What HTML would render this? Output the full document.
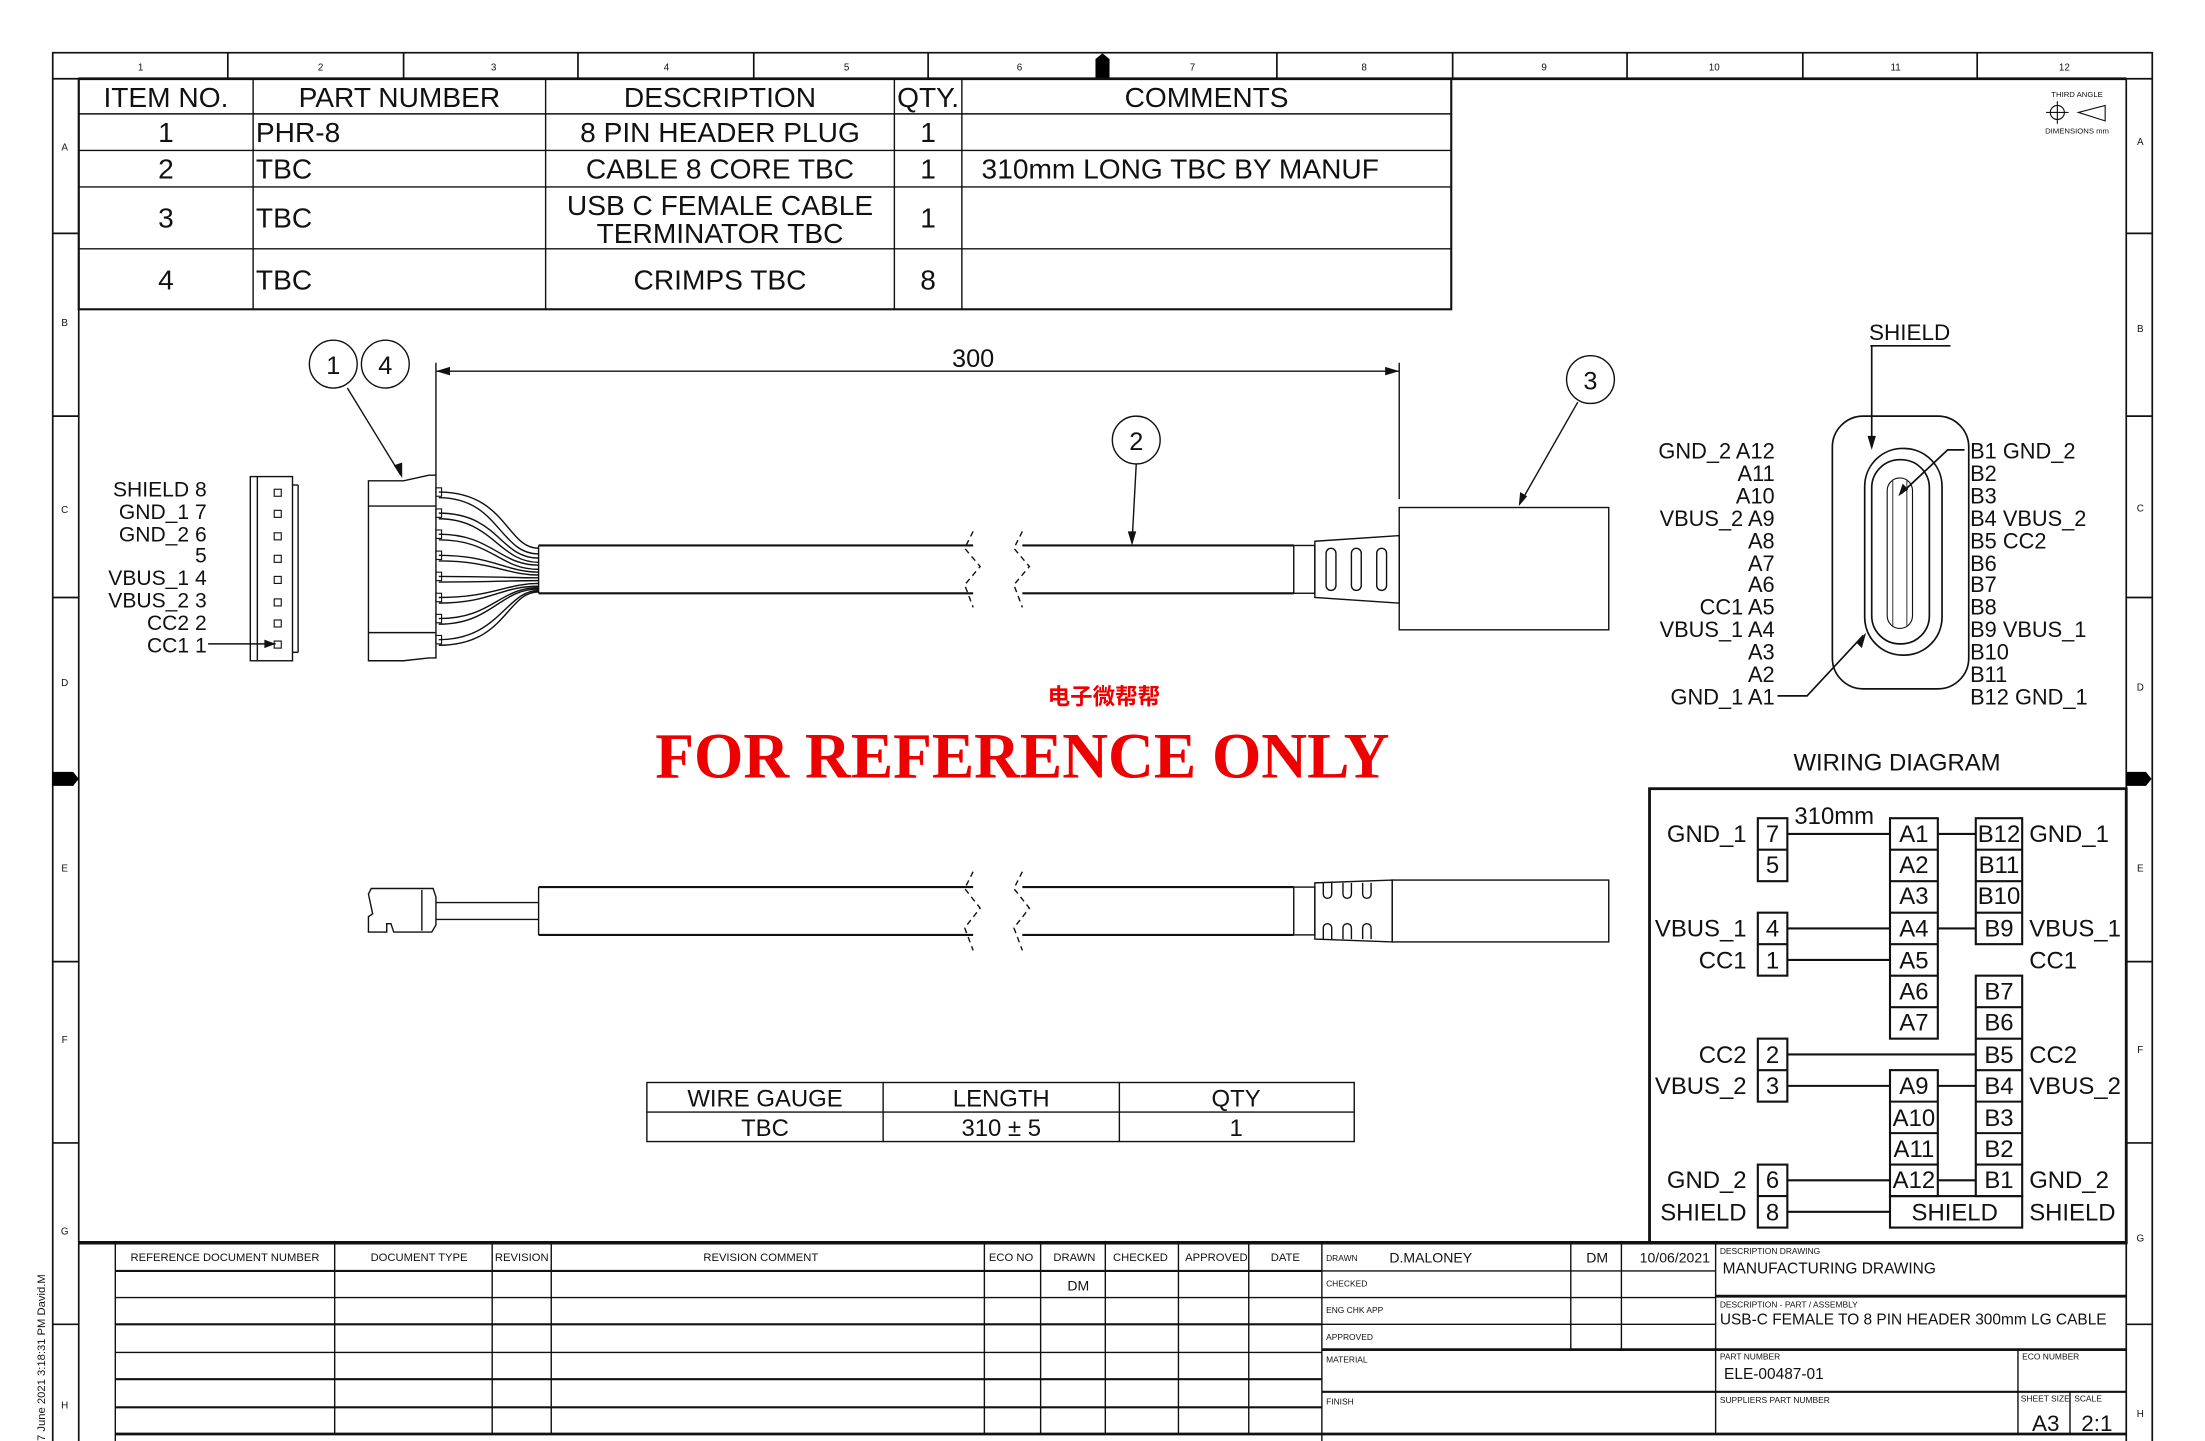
<!DOCTYPE html>
<html><head><meta charset="utf-8"><style>
html,body{margin:0;padding:0;background:#fff}
svg{display:block}
text{font-family:"Liberation Sans","Noto Sans CJK SC",sans-serif;fill:#111}
</style></head><body>
<svg width="2205" height="1441" viewBox="0 0 1568 1025" preserveAspectRatio="none" xmlns="http://www.w3.org/2000/svg">
<rect x="0" y="0" width="1568" height="1025" fill="#fff"/>
<g stroke="#111" fill="none" stroke-width="1.2">
<rect x="37.5" y="37.5" width="1493" height="1000"/>
<line x1="37.5" y1="56" x2="1530" y2="56"/>
<line x1="56" y1="56" x2="56" y2="1030"/>
<line x1="1512" y1="56" x2="1512" y2="1030"/>
<line x1="56" y1="56" x2="1512" y2="56" stroke-width="2"/>
<line x1="162" y1="37" x2="162" y2="56"/><line x1="287" y1="37" x2="287" y2="56"/><line x1="411" y1="37" x2="411" y2="56"/><line x1="536" y1="37" x2="536" y2="56"/><line x1="660" y1="37" x2="660" y2="56"/><line x1="908" y1="37" x2="908" y2="56"/><line x1="1033" y1="37" x2="1033" y2="56"/><line x1="1157" y1="37" x2="1157" y2="56"/><line x1="1282" y1="37" x2="1282" y2="56"/><line x1="1406" y1="37" x2="1406" y2="56"/>
<line x1="37" y1="166" x2="56" y2="166"/><line x1="37" y1="296" x2="56" y2="296"/><line x1="37" y1="425" x2="56" y2="425"/><line x1="37" y1="684" x2="56" y2="684"/><line x1="37" y1="813" x2="56" y2="813"/><line x1="37" y1="942" x2="56" y2="942"/>
<line x1="1512" y1="166" x2="1530" y2="166"/><line x1="1512" y1="296" x2="1530" y2="296"/><line x1="1512" y1="425" x2="1530" y2="425"/><line x1="1512" y1="684" x2="1530" y2="684"/><line x1="1512" y1="813" x2="1530" y2="813"/><line x1="1512" y1="942" x2="1530" y2="942"/>
</g>
<g fill="#000">
<path d="M779,56 L779,42 L784,38 L789,42 L789,56Z"/>
<path d="M37,549 L52,549 L56,554 L52,559 L37,559Z"/>
<path d="M1512,549 L1526,549 L1530,554 L1526,559 L1512,559Z"/>
</g>
<g font-size="7" text-anchor="middle" fill="#223">
<text x="100" y="50">1</text><text x="228" y="50">2</text><text x="351" y="50">3</text><text x="474" y="50">4</text><text x="602" y="50">5</text><text x="725" y="50">6</text><text x="848" y="50">7</text><text x="970" y="50">8</text><text x="1098" y="50">9</text><text x="1219" y="50">10</text><text x="1348" y="50">11</text><text x="1468" y="50">12</text>
<text x="46" y="107">A</text><text x="46" y="232">B</text><text x="46" y="365">C</text><text x="46" y="488">D</text><text x="46" y="620">E</text><text x="46" y="742">F</text><text x="46" y="878">G</text><text x="46" y="1002">H</text>
<text x="1522" y="103">A</text><text x="1522" y="236">B</text><text x="1522" y="364">C</text><text x="1522" y="491">D</text><text x="1522" y="620">E</text><text x="1522" y="749">F</text><text x="1522" y="883">G</text><text x="1522" y="1008">H</text>
</g>
<g font-size="5.5" text-anchor="middle"><text x="1477" y="69">THIRD ANGLE</text><text x="1477" y="95">DIMENSIONS mm</text></g>
<g stroke="#111" fill="none" stroke-width="0.8"><circle cx="1463" cy="80" r="5"/><line x1="1455" y1="80" x2="1471" y2="80"/><line x1="1463" y1="72" x2="1463" y2="88"/><path d="M1478,80 L1497,75 L1497,86Z"/></g>

<g stroke="#111" fill="none" stroke-width="1">
<rect x="56" y="56" width="976" height="164" stroke-width="1.5"/>
<line x1="56" y1="81" x2="1032" y2="81"/><line x1="56" y1="107" x2="1032" y2="107"/><line x1="56" y1="133" x2="1032" y2="133"/><line x1="56" y1="177" x2="1032" y2="177"/>
<line x1="180" y1="56" x2="180" y2="220"/><line x1="388" y1="56" x2="388" y2="220"/><line x1="636" y1="56" x2="636" y2="220"/><line x1="684" y1="56" x2="684" y2="220"/>
</g>
<g font-size="20">
<g text-anchor="middle">
<text x="118" y="76">ITEM NO.</text><text x="284" y="76">PART NUMBER</text><text x="512" y="76">DESCRIPTION</text><text x="660" y="76">QTY.</text><text x="858" y="76">COMMENTS</text>
<text x="118" y="101">1</text><text x="512" y="101">8 PIN HEADER PLUG</text><text x="660" y="101">1</text>
<text x="118" y="127">2</text><text x="512" y="127">CABLE 8 CORE TBC</text><text x="660" y="127">1</text>
<text x="118" y="162">3</text><text x="512" y="153">USB C FEMALE CABLE</text><text x="512" y="173">TERMINATOR TBC</text><text x="660" y="162">1</text>
<text x="118" y="206">4</text><text x="512" y="206">CRIMPS TBC</text><text x="660" y="206">8</text>
</g>
<text x="182" y="101">PHR-8</text><text x="182" y="127">TBC</text><text x="182" y="162">TBC</text><text x="182" y="206">TBC</text>
<text x="698" y="127">310mm LONG TBC BY MANUF</text>
</g>

<g stroke="#111" fill="none" stroke-width="1">
<line x1="310" y1="264" x2="995" y2="264"/>
<line x1="310" y1="258" x2="310" y2="338"/><line x1="995" y1="258" x2="995" y2="355"/>
<circle cx="237" cy="259" r="17"/><circle cx="274" cy="259" r="17"/><circle cx="808" cy="313" r="17"/><circle cx="1131" cy="270" r="17"/>
<line x1="247" y1="276" x2="285" y2="338"/><line x1="808" y1="330" x2="805" y2="386"/><line x1="1122" y1="286" x2="1081" y2="358"/>
<rect x="178" y="339" width="30" height="131"/><line x1="183" y1="339" x2="183" y2="470"/><line x1="208" y1="345" x2="212" y2="345"/><line x1="212" y1="345" x2="212" y2="464"/><line x1="208" y1="464" x2="212" y2="464"/>
<line x1="148" y1="458" x2="196" y2="458"/>
<path d="M262,342 L287,342 L305,338 L310,338 L310,468 L305,468 L287,470 L262,470Z"/>
<line x1="262" y1="360" x2="310" y2="360"/><line x1="262" y1="450" x2="310" y2="450"/>
<path d="M312,350 C360,350 360,390 383,390 M312,354 C355,354 355,394 383,394 M312,365 C355,365 355,397 383,397 M312,369 C350,369 355,400 383,400 M312,380 C350,380 355,402 383,402 M312,384 C350,384 355,405 383,405 M312,395 C350,395 360,407 383,407 M312,399 C350,399 360,409 383,409 M312,410 C350,410 360,411 383,411 M312,414 C350,414 360,413 383,413 M312,425 C350,425 360,415 383,415 M312,429 C350,429 355,417 383,417 M312,440 C350,440 355,418 383,418 M312,444 C350,444 355,419 383,419 M312,455 C355,455 360,420 383,420 M312,459 C360,459 360,421 383,421"/>
<line x1="383" y1="388" x2="692" y2="388" stroke-width="1.5"/><line x1="383" y1="422" x2="692" y2="422" stroke-width="1.5"/><line x1="383" y1="388" x2="383" y2="422"/>
<line x1="727" y1="388" x2="920" y2="388" stroke-width="1.5"/><line x1="727" y1="422" x2="920" y2="422" stroke-width="1.5"/>
<path d="M692,378 L686,390 L697,403 L686,416 L692,432" stroke-dasharray="4,3"/>
<path d="M727,378 L721,390 L732,403 L721,416 L727,432" stroke-dasharray="4,3"/>
<rect x="920" y="388" width="15" height="34"/>
<path d="M935,385 L995,381 L995,429 L935,425Z"/>
<rect x="943" y="390" width="7" height="30" rx="3.5"/><rect x="961" y="390" width="7" height="30" rx="3.5"/><rect x="979" y="390" width="7" height="30" rx="3.5"/>
<rect x="995" y="361" width="149" height="87"/>
<path d="M262,636 L264,632 L308,632 L310,638 L310,658 L307,663 L280,663 L278,657 L275,657 L275,663 L262,663 L262,652 L265,650Z"/>
<line x1="300" y1="633" x2="300" y2="662"/>
<line x1="310" y1="642" x2="383" y2="642"/><line x1="310" y1="654" x2="383" y2="654"/>
<line x1="383" y1="631" x2="692" y2="631" stroke-width="1.5"/><line x1="383" y1="665" x2="692" y2="665" stroke-width="1.5"/><line x1="383" y1="631" x2="383" y2="665"/>
<line x1="727" y1="631" x2="920" y2="631" stroke-width="1.5"/><line x1="727" y1="665" x2="920" y2="665" stroke-width="1.5"/>
<path d="M692,620 L686,632 L697,646 L686,660 L692,676" stroke-dasharray="4,3"/>
<path d="M727,620 L721,632 L732,646 L721,660 L727,676" stroke-dasharray="4,3"/>
<rect x="920" y="631" width="15" height="34"/>
<path d="M935,628 L990,626 L990,670 L935,668Z"/>
<path d="M941,628 v8 a3,3 0 0 0 6,0 v-8 M955,628 v8 a3,3 0 0 0 6,0 v-8 M969,628 v8 a3,3 0 0 0 6,0 v-8"/>
<path d="M941,668 v-8 a3,3 0 0 1 6,0 v8 M955,668 v-8 a3,3 0 0 1 6,0 v8 M969,668 v-8 a3,3 0 0 1 6,0 v8"/>
<rect x="990" y="626" width="154" height="44"/>
</g>
<g fill="#111">
<path d="M310,264 l10,-3 v6Z"/><path d="M995,264 l-10,-3 v6Z"/>
<path d="M286,340 l-6,-9 l6,-2Z"/><path d="M805,388 l-3,-10 l6,0Z"/><path d="M1080,360 l1,-10 l5,3Z"/>
<path d="M196,458 l-8,-3 v6Z"/>
</g>
<g fill="none" stroke="#111" stroke-width="0.8">
<rect x="195" y="348" width="5" height="5"/><rect x="195" y="363" width="5" height="5"/><rect x="195" y="379" width="5" height="5"/><rect x="195" y="395" width="5" height="5"/><rect x="195" y="410" width="5" height="5"/><rect x="195" y="426" width="5" height="5"/><rect x="195" y="441" width="5" height="5"/><rect x="195" y="456" width="5" height="5"/>
<rect x="310" y="347" width="4" height="6"/><rect x="310" y="362" width="4" height="6"/><rect x="310" y="377" width="4" height="6"/><rect x="310" y="392" width="4" height="6"/><rect x="310" y="407" width="4" height="6"/><rect x="310" y="422" width="4" height="6"/><rect x="310" y="437" width="4" height="6"/><rect x="310" y="452" width="4" height="6"/>
</g>
<g font-size="18" text-anchor="middle"><text x="237" y="266">1</text><text x="274" y="266">4</text><text x="808" y="320">2</text><text x="1131" y="277">3</text><text x="692" y="261">300</text></g>
<g font-size="15" text-anchor="end">
<text x="147" y="353">SHIELD 8</text><text x="147" y="369">GND_1 7</text><text x="147" y="385">GND_2 6</text><text x="147" y="400">5</text><text x="147" y="416">VBUS_1 4</text><text x="147" y="432">VBUS_2 3</text><text x="147" y="448">CC2 2</text><text x="147" y="464">CC1 1</text>
</g>
<text x="785" y="501" font-size="16" font-weight="bold" text-anchor="middle" style="fill:#e00">电子微帮帮</text>
<text x="727" y="553" font-size="46" font-weight="bold" text-anchor="middle" textLength="522" lengthAdjust="spacingAndGlyphs" style="font-family:'Liberation Serif',serif;fill:#e00">FOR REFERENCE ONLY</text>

<g stroke="#111" fill="none" stroke-width="1"><rect x="460" y="770" width="503" height="42"/><line x1="460" y1="791" x2="963" y2="791"/><line x1="628" y1="770" x2="628" y2="812"/><line x1="796" y1="770" x2="796" y2="812"/></g>
<g font-size="17" text-anchor="middle"><text x="544" y="787">WIRE GAUGE</text><text x="712" y="787">LENGTH</text><text x="879" y="787">QTY</text><text x="544" y="808">TBC</text><text x="712" y="808">310 ± 5</text><text x="879" y="808">1</text></g>

<g stroke="#111" fill="none" stroke-width="1.2">
<rect x="1303" y="296" width="97" height="194" rx="22"/>
<rect x="1326" y="319" width="55" height="147" rx="27"/>
<rect x="1331" y="327" width="41" height="131" rx="20"/>
<rect x="1342" y="340" width="18" height="107" rx="9" stroke-width="0.8"/>
<line x1="1346" y1="342" x2="1346" y2="445" stroke-width="0.6"/><line x1="1356" y1="342" x2="1356" y2="445" stroke-width="0.6"/>
<line x1="1330" y1="246" x2="1387" y2="246"/><line x1="1331" y1="246" x2="1331" y2="318"/>
<path d="M1397,320 L1385,320 L1352,351"/>
<path d="M1264,495 L1285,495 L1325,452"/>
</g>
<g fill="#111"><path d="M1331,320 l-3,-10 h6Z"/><path d="M1350,353 l3,-9 l4,4Z"/><path d="M1327,450 l-7,7 l4,4Z"/></g>
<text x="1358" y="242" font-size="16" text-anchor="middle">SHIELD</text>
<g font-size="15.5" text-anchor="end">
<text x="1262" y="326">GND_2 A12</text><text x="1262" y="342">A11</text><text x="1262" y="358">A10</text><text x="1262" y="374">VBUS_2 A9</text><text x="1262" y="390">A8</text><text x="1262" y="406">A7</text><text x="1262" y="421">A6</text><text x="1262" y="437">CC1 A5</text><text x="1262" y="453">VBUS_1 A4</text><text x="1262" y="469">A3</text><text x="1262" y="485">A2</text><text x="1262" y="501">GND_1 A1</text>
</g>
<g font-size="15.5">
<text x="1401" y="326">B1 GND_2</text><text x="1401" y="342">B2</text><text x="1401" y="358">B3</text><text x="1401" y="374">B4 VBUS_2</text><text x="1401" y="390">B5 CC2</text><text x="1401" y="406">B6</text><text x="1401" y="421">B7</text><text x="1401" y="437">B8</text><text x="1401" y="453">B9 VBUS_1</text><text x="1401" y="469">B10</text><text x="1401" y="485">B11</text><text x="1401" y="501">B12 GND_1</text>
</g>
<text x="1349" y="548" font-size="17" text-anchor="middle">WIRING DIAGRAM</text>

<g stroke="#111" fill="none" stroke-width="1.5">
<rect x="1173" y="561" width="339" height="323" stroke-width="2"/>
<rect x="1250" y="582" width="21" height="44.8"/><line x1="1250" y1="604.4" x2="1271" y2="604.4"/>
<rect x="1250" y="649.2" width="21" height="44.8"/><line x1="1250" y1="671.6" x2="1271" y2="671.6"/>
<rect x="1250" y="738.8" width="21" height="44.8"/><line x1="1250" y1="761.2" x2="1271" y2="761.2"/>
<rect x="1250" y="828.4" width="21" height="44.8"/><line x1="1250" y1="850.8" x2="1271" y2="850.8"/>
<rect x="1344" y="582" width="34" height="156.8"/>
<line x1="1344" y1="604.4" x2="1378" y2="604.4"/><line x1="1344" y1="626.8" x2="1378" y2="626.8"/><line x1="1344" y1="649.2" x2="1378" y2="649.2"/><line x1="1344" y1="671.6" x2="1378" y2="671.6"/><line x1="1344" y1="694" x2="1378" y2="694"/><line x1="1344" y1="716.4" x2="1378" y2="716.4"/>
<rect x="1344" y="761.2" width="34" height="89.6"/>
<line x1="1344" y1="783.6" x2="1378" y2="783.6"/><line x1="1344" y1="806" x2="1378" y2="806"/><line x1="1344" y1="828.4" x2="1378" y2="828.4"/>
<rect x="1405" y="582" width="33" height="89.6"/>
<line x1="1405" y1="604.4" x2="1438" y2="604.4"/><line x1="1405" y1="626.8" x2="1438" y2="626.8"/><line x1="1405" y1="649.2" x2="1438" y2="649.2"/>
<rect x="1405" y="694" width="33" height="156.8"/>
<line x1="1405" y1="716.4" x2="1438" y2="716.4"/><line x1="1405" y1="738.8" x2="1438" y2="738.8"/><line x1="1405" y1="761.2" x2="1438" y2="761.2"/><line x1="1405" y1="783.6" x2="1438" y2="783.6"/><line x1="1405" y1="806" x2="1438" y2="806"/><line x1="1405" y1="828.4" x2="1438" y2="828.4"/>
<rect x="1344" y="850.8" width="94" height="22.4"/>
<line x1="1271" y1="593.2" x2="1344" y2="593.2"/><line x1="1378" y1="593.2" x2="1405" y2="593.2"/>
<line x1="1271" y1="660.4" x2="1344" y2="660.4"/><line x1="1378" y1="660.4" x2="1405" y2="660.4"/>
<line x1="1271" y1="682.8" x2="1344" y2="682.8"/>
<line x1="1271" y1="750" x2="1405" y2="750"/>
<line x1="1271" y1="772.4" x2="1344" y2="772.4"/><line x1="1378" y1="772.4" x2="1405" y2="772.4"/>
<line x1="1271" y1="839.6" x2="1344" y2="839.6"/><line x1="1378" y1="839.6" x2="1405" y2="839.6"/>
<line x1="1271" y1="862" x2="1344" y2="862"/>
</g>
<g font-size="17" text-anchor="middle">
<text x="1260.5" y="599">7</text><text x="1260.5" y="621">5</text><text x="1260.5" y="666">4</text><text x="1260.5" y="689">1</text><text x="1260.5" y="756">2</text><text x="1260.5" y="778">3</text><text x="1260.5" y="845">6</text><text x="1260.5" y="868">8</text>
<text x="1361" y="599">A1</text><text x="1361" y="621">A2</text><text x="1361" y="643">A3</text><text x="1361" y="666">A4</text><text x="1361" y="689">A5</text><text x="1361" y="711">A6</text><text x="1361" y="733">A7</text>
<text x="1361" y="778">A9</text><text x="1361" y="801">A10</text><text x="1361" y="823">A11</text><text x="1361" y="845">A12</text>
<text x="1421.5" y="599">B12</text><text x="1421.5" y="621">B11</text><text x="1421.5" y="643">B10</text><text x="1421.5" y="666">B9</text>
<text x="1421.5" y="711">B7</text><text x="1421.5" y="733">B6</text><text x="1421.5" y="756">B5</text><text x="1421.5" y="778">B4</text><text x="1421.5" y="801">B3</text><text x="1421.5" y="823">B2</text><text x="1421.5" y="845">B1</text>
<text x="1390" y="868">SHIELD</text>
</g>
<text x="1276" y="586" font-size="17">310mm</text>
<g font-size="17" text-anchor="end">
<text x="1242" y="599">GND_1</text><text x="1242" y="666">VBUS_1</text><text x="1242" y="689">CC1</text><text x="1242" y="756">CC2</text><text x="1242" y="778">VBUS_2</text><text x="1242" y="845">GND_2</text><text x="1242" y="868">SHIELD</text>
</g>
<g font-size="17">
<text x="1443" y="599">GND_1</text><text x="1443" y="666">VBUS_1</text><text x="1443" y="689">CC1</text><text x="1443" y="756">CC2</text><text x="1443" y="778">VBUS_2</text><text x="1443" y="845">GND_2</text><text x="1443" y="868">SHIELD</text>
</g>

<g stroke="#111" fill="none" stroke-width="1">
<line x1="56" y1="884" x2="1512" y2="884" stroke-width="2.5"/>
<line x1="82" y1="884" x2="82" y2="1025"/>
<line x1="82" y1="904" x2="940" y2="904" stroke-width="1.5"/><line x1="82" y1="923" x2="940" y2="923"/><line x1="82" y1="942" x2="940" y2="942" stroke-width="1.5"/><line x1="82" y1="962" x2="940" y2="962"/><line x1="82" y1="981" x2="940" y2="981" stroke-width="1.5"/><line x1="82" y1="1001" x2="940" y2="1001" stroke-width="1.5"/><line x1="82" y1="1020" x2="1512" y2="1020" stroke-width="2"/>
<line x1="238" y1="884" x2="238" y2="1020"/><line x1="350" y1="884" x2="350" y2="1020"/><line x1="392" y1="884" x2="392" y2="1020"/><line x1="700" y1="884" x2="700" y2="1020"/><line x1="740" y1="884" x2="740" y2="1020"/><line x1="786" y1="884" x2="786" y2="1020"/><line x1="838" y1="884" x2="838" y2="1020"/><line x1="888" y1="884" x2="888" y2="1020"/><line x1="940" y1="884" x2="940" y2="1025"/>
<line x1="940" y1="904" x2="1220" y2="904"/><line x1="940" y1="923" x2="1220" y2="923"/><line x1="940" y1="942" x2="1220" y2="942"/><line x1="940" y1="960" x2="1512" y2="960" stroke-width="2"/><line x1="940" y1="990" x2="1512" y2="990" stroke-width="1.5"/>
<line x1="1117" y1="884" x2="1117" y2="960"/><line x1="1153" y1="884" x2="1153" y2="960"/><line x1="1220" y1="884" x2="1220" y2="1020"/>
<line x1="1220" y1="922" x2="1512" y2="922" stroke-width="2"/>
<line x1="1435" y1="960" x2="1435" y2="1020"/><line x1="1472" y1="990" x2="1472" y2="1020"/>
</g>
<g font-size="8" text-anchor="middle" fill="#112">
<text x="160" y="897">REFERENCE DOCUMENT NUMBER</text><text x="298" y="897">DOCUMENT TYPE</text><text x="371" y="897">REVISION</text><text x="541" y="897">REVISION COMMENT</text><text x="719" y="897">ECO NO</text><text x="764" y="897">DRAWN</text><text x="811" y="897">CHECKED</text><text x="865" y="897">APPROVED</text><text x="914" y="897">DATE</text>
</g>
<g font-size="6" fill="#112">
<text x="943" y="897">DRAWN</text><text x="943" y="915">CHECKED</text><text x="943" y="934">ENG CHK APP</text><text x="943" y="953">APPROVED</text><text x="943" y="969">MATERIAL</text><text x="943" y="999">FINISH</text>
<text x="1223" y="892">DESCRIPTION DRAWING</text><text x="1223" y="930">DESCRIPTION - PART / ASSEMBLY</text><text x="1223" y="967">PART NUMBER</text><text x="1438" y="967">ECO NUMBER</text><text x="1223" y="998">SUPPLIERS PART NUMBER</text><text x="1437" y="997">SHEET SIZE</text><text x="1475" y="997">SCALE</text>
</g>
<g font-size="10">
<text x="988" y="898">D.MALONEY</text><text x="1128" y="898">DM</text><text x="1166" y="898">10/06/2021</text><text x="759" y="918">DM</text>
</g>
<g font-size="11">
<text x="1225" y="906">MANUFACTURING DRAWING</text><text x="1223" y="942">USB-C FEMALE TO 8 PIN HEADER 300mm LG CABLE</text><text x="1226" y="981">ELE-00487-01</text>
</g>
<g font-size="16"><text x="1445" y="1018">A3</text><text x="1480" y="1018">2:1</text></g>
<text transform="translate(32,1025) rotate(-90)" font-size="8" fill="#223">7 June 2021 3:18:31 PM David.M</text>
</svg>
</body></html>
